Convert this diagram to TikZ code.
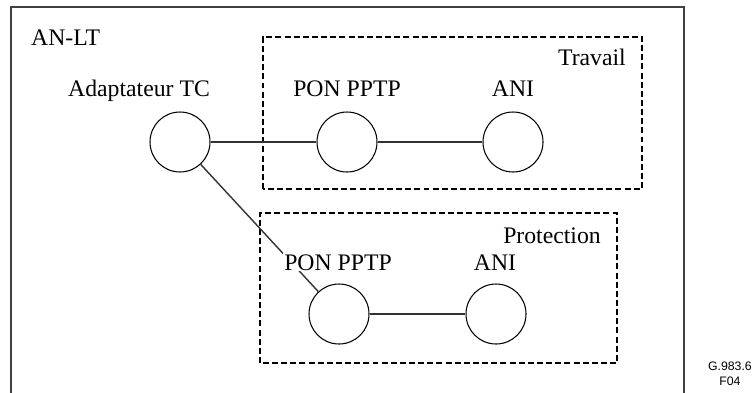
\documentclass[tikz,border=0pt]{standalone}
\usepackage{fontspec}
\setmainfont{Liberation Serif}
\setsansfont{Liberation Sans}

\tikzset{
    elem/.style={circle, draw=black, line width=0.6pt, fill=white, minimum size=1.2cm, inner sep=0pt},
    lbl/.style={anchor=base, inner sep=0.5pt, font=\fontsize{13.5}{16}\selectfont},
    zone/.style={draw=black, line width=1pt, dash pattern=on 3.4pt off 1.8pt},
    link/.style={draw=black!80, line width=0.8pt}
}

\begin{document}
\begin{tikzpicture}
    \useasboundingbox (0,0) rectangle (15.08,7.84);

    \draw[line width=1pt, black!75] (0.22,-0.2) -- (0.22,7.70) -- (13.68,7.70) -- (13.68,-0.2);
    \node[lbl, anchor=base west] (anlt) at (0.60,6.94) {AN-LT};

    \draw[zone] (5.26,4.06) rectangle (12.84,7.10);
    \draw[zone] (5.20,0.58) rectangle (12.34,3.58);
    \node[lbl, anchor=base east] (travail) at (12.54,6.54) {Travail};
    \node[lbl, anchor=base east] (prot) at (12.04,2.98) {Protection};

    \node[elem] (tc) at (3.60,5.00) {};
    \node[elem] (pon1) at (6.94,5.00) {};
    \node[elem] (ani1) at (10.26,5.00) {};
    \node[elem] (pon2) at (6.78,1.56) {};
    \node[elem] (ani2) at (9.92,1.56) {};

    \draw[link] (tc) -- (pon1);
    \draw[link] (pon1) -- (ani1);
    \draw[link] (tc) -- (pon2);
    \draw[link] (pon2) -- (ani2);

    \node[lbl] (tclbl) at (2.78,5.92) {Adaptateur TC};
    \node[lbl] (pon1lbl) at (6.94,5.92) {PON PPTP};
    \node[lbl] (ani1lbl) at (10.26,5.92) {ANI};
    \node[lbl, fill=white] (pon2lbl) at (6.76,2.44) {PON PPTP};
    \node[lbl] (ani2lbl) at (9.90,2.44) {ANI};

    \node[align=center, font=\sffamily\fontsize{7}{8.2}\selectfont, anchor=north east, inner sep=0.5pt] (ref) at (15.06,0.62) {G.983.6\\F04};
\end{tikzpicture}
\end{document}
